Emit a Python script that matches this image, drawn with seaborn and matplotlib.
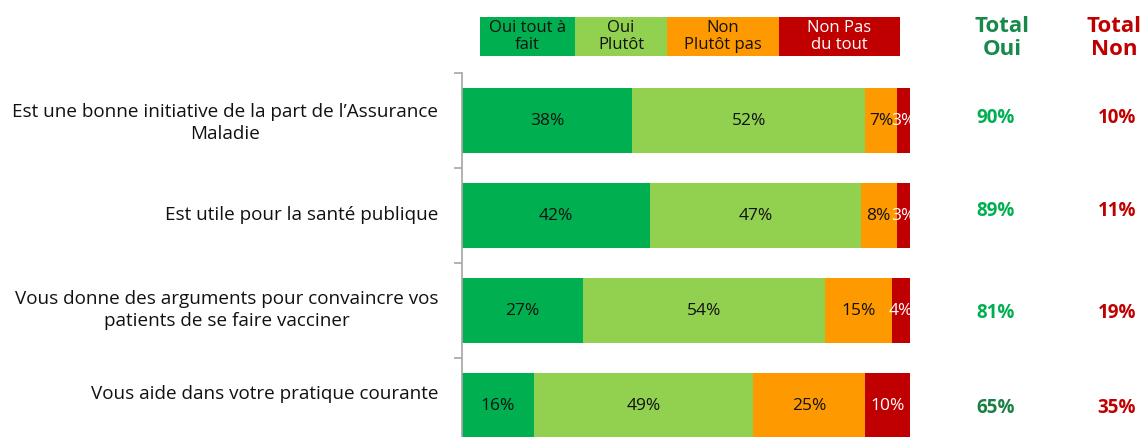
# Stacked agreement bars + totals (Assurance Maladie survey)
import numpy as np
import pandas as pd
import matplotlib
matplotlib.use("Agg")
import matplotlib.pyplot as plt
from matplotlib.patches import Rectangle
from matplotlib.transforms import ScaledTranslation
import seaborn as sns

# ==============================
# DATA
# ==============================
questions = [
    "Est une bonne initiative de la part de l\u2019Assurance\nMaladie",
    "Est utile pour la sant\u00e9 publique",
    "Vous donne des arguments pour convaincre vos\npatients de se faire vacciner",
    "Vous aide dans votre pratique courante",
]
levels = ["Oui tout \u00e0\nfait", "Oui\nPlut\u00f4t", "Non\nPlut\u00f4t pas", "Non Pas\ndu tout"]
oui_tout_a_fait = [38, 42, 27, 16]
oui_plutot = [52, 47, 54, 49]
non_plutot_pas = [7, 8, 15, 25]
non_pas_du_tout = [3, 3, 4, 10]
total_oui = [90, 89, 81, 65]
total_non = [10, 11, 19, 35]

colors = ["#00B050", "#92D050", "#FF9900", "#C00000"]
label_colors = ["#111111", "#111111", "#111111", "white"]

W, H = 1148, 437
sns.set_style("white")
plt.rcParams["font.family"] = ["Open Sans", "DejaVu Sans"]

fig = plt.figure(figsize=(W / 100, H / 100), dpi=100)

# axes placed so that the last bar runs off the bottom, as in the reference
ax = fig.add_axes([462 / W, 1 - 453 / H, 448 / W, 380 / H])

df = pd.DataFrame({
    "question": questions,
    "l0": oui_tout_a_fait,
    "l1": oui_plutot,
    "l2": non_plutot_pas,
    "l3": non_pas_du_tout,
})
cols = ["l0", "l1", "l2", "l3"]
cum = df[cols].cumsum(axis=1)

# draw cumulative bars from the longest to the shortest
for i in reversed(range(4)):
    sns.barplot(
        x=cum[cols[i]], y=df["question"], orient="h",
        color=colors[i], saturation=1, width=0.68,
        edgecolor="none", ax=ax,
    )

# segment labels
for r in range(len(df)):
    for i in range(4):
        val = df.loc[r, cols[i]]
        start = cum.loc[r, cols[i]] - val
        ax.text(start + val / 2, r, f"{val}%", ha="center", va="center",
                fontsize=12.5, color=label_colors[i])

ax.set_xlim(0, 100)
ax.set_ylim(3.5, -0.5)
ax.set_xlabel("")
ax.set_ylabel("")
ax.set_xticks([])
ax.tick_params(axis="y", which="major", left=False, length=0, pad=17,
               labelsize=13.6, labelcolor="#111111")
label_shift = [2, 3, 5, 14]  # px up, the reference labels sit a bit high
for lab, dy in zip(ax.get_yticklabels(), label_shift):
    lab.set_multialignment("center")
    lab.set_linespacing(1.3)
    lab.set_transform(lab.get_transform() + ScaledTranslation(0, dy / 100, fig.dpi_scale_trans))
ax.set_yticks([-0.5, 0.5, 1.5, 2.5, 3.5], minor=True)
ax.tick_params(axis="y", which="minor", left=True, length=6, color="#A6A6A6", width=1.2)
for s in ["top", "right", "bottom"]:
    ax.spines[s].set_visible(False)
ax.spines["left"].set_color("#A6A6A6")
ax.spines["left"].set_linewidth(1.2)

# header legend boxes
edges = [480, 575, 667, 779, 900]
for i in range(4):
    fig.patches.append(Rectangle(
        (edges[i] / W, 1 - 56 / H), (edges[i + 1] - edges[i]) / W, 39 / H,
        transform=fig.transFigure, facecolor=colors[i], edgecolor="none"))
    fig.text((edges[i] + edges[i + 1]) / 2 / W, 1 - 36.5 / H, levels[i],
             ha="center", va="center", fontsize=12, color=label_colors[i],
             linespacing=1.1)

# totals columns
fig.text(1002 / W, 1 - 38 / H, "Total\nOui", ha="center", va="center",
         fontsize=16, fontweight="bold", color="#178A4A", linespacing=1.1)
fig.text(1114 / W, 1 - 38 / H, "Total\nNon", ha="center", va="center",
         fontsize=16, fontweight="bold", color="#C00000", linespacing=1.1)
oui_cols = ["#00B050", "#00B050", "#00B050", "#1B7F43"]
total_shift = [3, 5, -2, -2]  # px up
for r in range(len(df)):
    y_fig = ax.transData.transform((0, r))[1] / H + total_shift[r] / H
    fig.text(996 / W, y_fig, f"{total_oui[r]}%", ha="center", va="center",
             fontsize=13.5, fontweight="bold", color=oui_cols[r])
    fig.text(1117 / W, y_fig, f"{total_non[r]}%", ha="center", va="center",
             fontsize=13.5, fontweight="bold", color="#C00000")

fig.savefig("out.png", dpi=100)
